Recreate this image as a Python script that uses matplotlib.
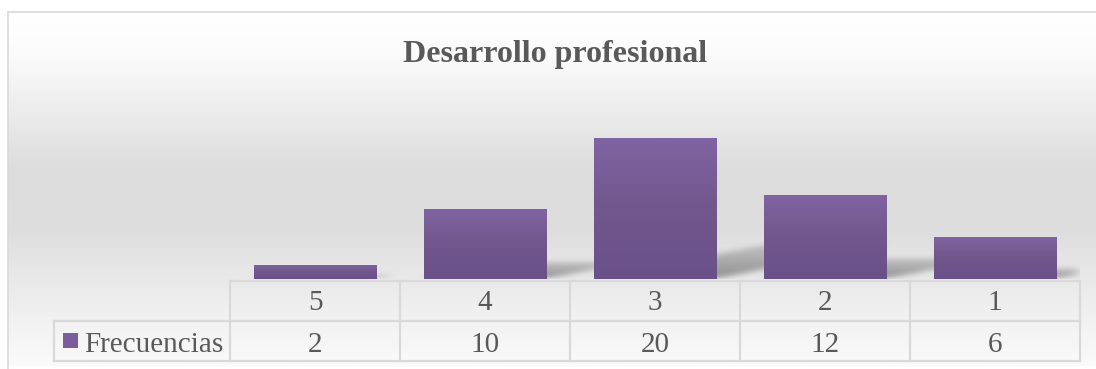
import numpy as np
import matplotlib
matplotlib.use("Agg")
import matplotlib.pyplot as plt
from matplotlib.patches import Rectangle
from matplotlib.transforms import blended_transform_factory
from matplotlib.colors import LinearSegmentedColormap

# --- data ---
categories = ["5", "4", "3", "2", "1"]
frecuencias = [2, 10, 20, 12, 6]
series_name = "Frecuencias"
title = "Desarrollo profesional"

W, H = 1096, 369
fig = plt.figure(figsize=(W / 100, H / 100), dpi=100)
fig.patch.set_facecolor("white")

SERIF = ["Liberation Serif", "DejaVu Serif"]
TXT = "#595959"
GRID = "#d9d9d9"

# full-figure overlay in pixel coordinates (y downwards)
bg = fig.add_axes([0, 0, 1, 1])
bg.set_xlim(0, W)
bg.set_ylim(H, 0)
bg.axis("off")

# chart area background: vertical grey gradient
stops = [(0.0, "#ffffff"), (0.12, "#fbfbfb"), (0.45, "#dcdcdc"),
         (0.62, "#dedede"), (0.85, "#f0f0f0"), (1.0, "#fafafa")]
cmap = LinearSegmentedColormap.from_list("bgfade", stops)
grad = np.linspace(0, 1, 400).reshape(-1, 1)
bg.imshow(grad, cmap=cmap, aspect="auto", extent=[8, W + 2, 366, 12],
          interpolation="bilinear", zorder=0)
bg.plot([8, W + 2], [12, 12], color=GRID, lw=1.2, zorder=1)
bg.plot([8, 8], [12, H + 2], color=GRID, lw=1.2, zorder=1)

bg.text(555, 62, title, ha="center", va="baseline", fontsize=23,
        fontweight="bold", color=TXT, family=SERIF, zorder=5)

# plot area for the bars
x0, x1, ytop, ybot = 230, 1080, 103, 279
ax = fig.add_axes([x0 / W, 1 - ybot / H, (x1 - x0) / W, (ybot - ytop) / H])
ax.set_xlim(-0.5, len(categories) - 0.5)
ax.set_ylim(0, 25)
ax.axis("off")
ax.patch.set_alpha(0)

xs = np.arange(len(categories))
width = 0.72

# soft perspective shadows behind the bars
nx, ny = 900, 300
gx = np.linspace(-0.5, len(categories) - 0.5, nx)
gy = np.linspace(0, 25, ny)
GX, GY = np.meshgrid(gx, gy)
mask = np.zeros_like(GX)
for xi, v in zip(xs, frecuencias):
    sh = 0.24 * v
    t = np.clip(GY / max(sh, 1e-6), 0, 1)
    shift = t * 0.05 * v
    inside = (GY <= sh) & (GX >= xi - width / 2 + shift) & (GX <= xi + width / 2 + shift)
    mask = np.maximum(mask, inside * (1 - 0.6 * t))


def box_blur(a, r, axis):
    k = np.ones(2 * r + 1) / (2 * r + 1)
    return np.apply_along_axis(lambda m: np.convolve(m, k, mode="same"), axis, a)


for _ in range(3):
    mask = box_blur(mask, 6, 1)
    mask = box_blur(mask, 4, 0)
shadow = np.zeros((ny, nx, 4))
shadow[..., :3] = 0.45
shadow[..., 3] = np.clip(mask * 0.75, 0, 1)
ax.imshow(shadow, origin="lower", aspect="auto",
          extent=[-0.5, len(categories) - 0.5, 0, 25], zorder=1,
          interpolation="bilinear")

# bars with vertical purple gradient
bar_cmap = LinearSegmentedColormap.from_list(
    "purp", [(0.0, "#6a5089"), (0.55, "#73588f"), (1.0, "#8064a2")])
bars = ax.bar(xs, frecuencias, width=width, color="none", zorder=2)
for b in bars:
    x, y = b.get_x(), b.get_y()
    w, h = b.get_width(), b.get_height()
    im = ax.imshow(np.linspace(0, 1, 100).reshape(-1, 1), cmap=bar_cmap,
                   origin="lower", aspect="auto", extent=[x, x + w, y, y + h],
                   zorder=3, interpolation="bilinear")
    im.set_clip_path(b)
ax.set_xlim(-0.5, len(categories) - 0.5)
ax.set_ylim(0, 25)

# data table below the plot area
tr = blended_transform_factory(ax.transData, bg.transData)
r0, r1, r2 = 281, 321, 361
n = len(categories)
for i in range(n + 1):
    bg.plot([i - 0.5, i - 0.5], [r0, r2], color=GRID, lw=1.6, transform=tr, zorder=4)
bg.plot([-0.5, n - 0.5], [r0, r0], color=GRID, lw=1.6, transform=tr, zorder=4)
bg.plot([-0.5, n - 0.5], [r2, r2], color=GRID, lw=1.6, transform=tr, zorder=4)
bg.plot([54, x0], [r1, r1], color=GRID, lw=1.6, zorder=4)
bg.plot([-0.5, n - 0.5], [r1, r1], color=GRID, lw=1.6, transform=tr, zorder=4)
bg.plot([54, x0], [r2, r2], color=GRID, lw=1.6, zorder=4)
bg.plot([54, 54], [r1, r2], color=GRID, lw=1.6, zorder=4)

FS = 21
for i, (c, v) in enumerate(zip(categories, frecuencias)):
    bg.text(i, 310, c, transform=tr, ha="center", va="baseline",
            fontsize=FS, color=TXT, family=SERIF, zorder=5)
    bg.text(i, 352, str(v), transform=tr, ha="center", va="baseline",
            fontsize=FS, color=TXT, family=SERIF, zorder=5)

# legend key inside the table
bg.add_patch(Rectangle((63, 333), 15, 15, facecolor="#7a5e9b", edgecolor="none", zorder=5))
bg.text(84, 352, series_name, ha="left", va="baseline",
        fontsize=FS, color=TXT, family=SERIF, zorder=5)

fig.savefig("out.png", dpi=100)
